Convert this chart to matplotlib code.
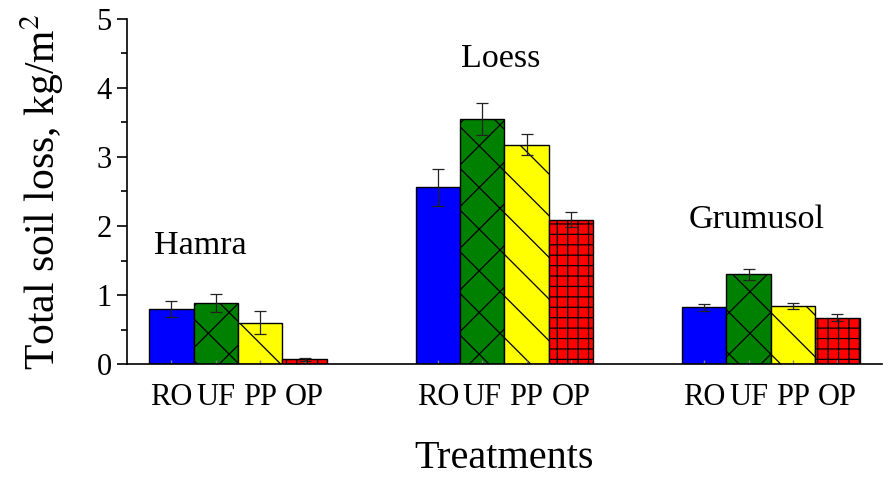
import numpy as np
import matplotlib.pyplot as plt

plt.rcParams['font.family'] = ['Liberation Serif', 'DejaVu Serif']
plt.rcParams['mathtext.fontset'] = 'stix'

# Data
soils = ['Hamra', 'Loess', 'Grumusol']
treatments = ['RO', 'UF', 'PP', 'OP']
loss = {
    'RO': [0.80, 2.56, 0.82],
    'UF': [0.88, 3.55, 1.30],
    'PP': [0.60, 3.18, 0.84],
    'OP': [0.07, 2.09, 0.67],
}
err = {
    'RO': [0.12, 0.27, 0.05],
    'UF': [0.13, 0.23, 0.08],
    'PP': [0.17, 0.15, 0.04],
    'OP': [0.02, 0.11, 0.05],
}
soil_label_x = [0.65, 1.41, 1.18]   # offset from first bar of group
soil_label_y = [1.72, 4.43, 2.09]

colors = {'RO': '#0000ff', 'UF': '#008000', 'PP': '#ffff00', 'OP': '#ff0000'}
hatches = {'RO': '', 'UF': 'x', 'PP': '\\', 'OP': '++'}

# dpi 125 so the hatch spacing comes out close to the original
DPI = 125
s = 100 / DPI
plt.rcParams['hatch.linewidth'] = 0.9 * s

fig = plt.figure(figsize=(890 / DPI, 482 / DPI), dpi=DPI)
ax = fig.add_axes([0.1427, 0.2448, 0.848, 0.7158])

group_gap = 6
xpos = np.arange(len(soils)) * group_gap
for i, t in enumerate(treatments):
    ax.bar(xpos + i, loss[t], width=1.0, color=colors[t], edgecolor='black',
           linewidth=1.0 * s, hatch=hatches[t], yerr=err[t],
           error_kw=dict(ecolor='#222222', elinewidth=0.9 * s, capsize=4 * s,
                         capthick=0.9 * s))

for g, name in enumerate(soils):
    ax.text(xpos[g] + soil_label_x[g], soil_label_y[g], name, ha='center',
            va='center', fontsize=24.5 * s)

ticks = np.concatenate([xpos + i for i in range(len(treatments))])
labels = [t for t in treatments for _ in soils]
order = np.argsort(ticks)
ax.set_xticks(ticks[order])
ax.set_xticklabels([labels[k] for k in order], fontsize=22 * s)
ax.tick_params(axis='x', direction='in', length=3 * s, color='gray', pad=14 * s)

ax.set_xlim(-1, 16)
ax.set_ylim(0, 5)
ax.set_yticks([0, 1, 2, 3, 4, 5])
ax.set_yticks(np.arange(0.5, 5, 1), minor=True)
ax.tick_params(axis='y', which='major', direction='out', length=7 * s,
               width=1.2 * s, labelsize=22 * s, pad=4 * s)
ax.tick_params(axis='y', which='minor', direction='out', length=4 * s, width=1.2 * s)

ax.spines['top'].set_visible(False)
ax.spines['right'].set_visible(False)
ax.spines['left'].set_linewidth(1.2 * s)
ax.spines['bottom'].set_linewidth(1.2 * s)

ax.set_ylabel('Total soil loss, kg/m$^2$', fontsize=30 * s, labelpad=22 * s)
ax.set_xlabel('Treatments', fontsize=29 * s, labelpad=20 * s)

fig.savefig('out.png', dpi=DPI)
